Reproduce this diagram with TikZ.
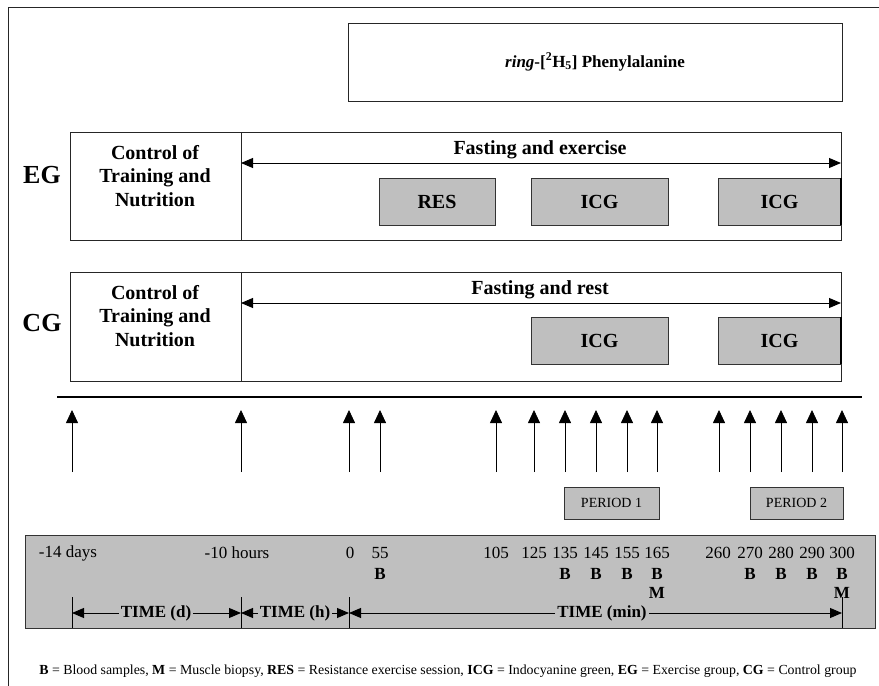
\documentclass[tikz,border=0pt]{standalone}
\usepackage{fontspec}
\setmainfont{Liberation Serif}
\usetikzlibrary{arrows.meta}
\begin{document}
\begin{tikzpicture}[x=1pt,y=-1pt,
  frame/.style={draw=black!85,line width=0.9pt},
  box/.style={draw=black!85,line width=0.9pt},
  gbox/.style={draw=black!80,line width=0.9pt,fill=black!25},
  lbl/.style={font=\bfseries\fontsize{20}{23.5}\selectfont,align=center},
  grp/.style={font=\bfseries\fontsize{26}{28}\selectfont},
  tip/.style={-{Triangle[length=13pt,width=12pt]},line width=0.8pt},
  dtip/.style={{Triangle[length=12pt,width=10pt]}-{Triangle[length=12pt,width=10pt]},line width=0.9pt},
  ttip/.style={-{Triangle[length=12pt,width=10pt]},line width=0.9pt},
  num/.style={font=\fontsize{17}{19}\selectfont,inner sep=0pt},
  bl/.style={font=\bfseries\fontsize{17}{19}\selectfont,inner sep=0pt},
  per/.style={gbox,font=\fontsize{14}{16}\selectfont,minimum height=32pt,inner sep=0pt}]
\useasboundingbox (0,0) rectangle (879,686);
% outer frame
\draw[frame] (8,686) -- (8,7) -- (879,7);
% phenylalanine
\node[box,minimum width=494pt,minimum height=78pt,inner sep=0pt,font=\bfseries\fontsize{17}{19}\selectfont] (phe) at (595,62) {\textit{ring}-[$^{\mathbf{2}}$H$_{\mathbf{5}}$] Phenylalanine};
% EG row
\draw[box] (70,132) rectangle (841,240);
\draw[box] (241,132) -- (241,240);
\node[grp] (eg) at (42,175) {EG};
\node[lbl] (egc) at (155,176) {Control of\\Training and\\Nutrition};
\coordinate (egl) at (241,163);
\coordinate (egr) at (841,163);
\draw[dtip] (egl) -- (egr);
\node[lbl] (egf) at (540,150) {Fasting and exercise};
\node[gbox,lbl,minimum width=116pt,minimum height=47pt,inner sep=0pt] (res) at (437,201.5) {RES};
\node[gbox,lbl,minimum width=137pt,minimum height=47pt,inner sep=0pt] (icg1) at (599.5,201.5) {ICG};
\node[gbox,lbl,minimum width=123pt,minimum height=47pt,inner sep=0pt] (icg2) at (779.5,201.5) {ICG};
\draw[line width=2pt] (icg2.north east) -- (icg2.south east);
% CG row
\draw[box] (70,272) rectangle (841,381);
\draw[box] (241,272) -- (241,381);
\node[grp] (cg) at (42,323) {CG};
\node[lbl] (cgc) at (155,316) {Control of\\Training and\\Nutrition};
\coordinate (cgl) at (241,303);
\coordinate (cgr) at (841,303);
\draw[dtip] (cgl) -- (cgr);
\node[lbl] (cgf) at (540,290) {Fasting and rest};
\node[gbox,lbl,minimum width=137pt,minimum height=47pt,inner sep=0pt] (icg3) at (599.5,340.5) {ICG};
\node[gbox,lbl,minimum width=123pt,minimum height=47pt,inner sep=0pt] (icg4) at (779.5,340.5) {ICG};
\draw[line width=2pt] (icg4.north east) -- (icg4.south east);
% separator
\coordinate (s1) at (57,397);
\coordinate (s2) at (862,397);
\draw[line width=1.1pt] (s1) -- (s2);
% up arrows
\foreach \x [count=\i] in {72,241,349,380,496,534,565,596,627,657,719,750,781,812,842}{
  \coordinate (ab\i) at (\x,472);
  \coordinate (at\i) at (\x,410);
  \draw[tip] (ab\i) -- (at\i);
}
% periods
\node[per,minimum width=95pt] (p1) at (611.5,503) {PERIOD 1};
\node[per,minimum width=93pt] (p2) at (796.5,503) {PERIOD 2};
% timeline box
\draw[gbox] (25,535) rectangle (875,628);
\node[num] (n1) at (68,553) {-14 days};
\node[num] (n2) at (237,553) {-10 hours};
\foreach \x/\t in {350/0,380/55,496/105,534/125,565/135,596/145,627/155,657/165,718/260,750/270,781/280,812/290,842/300}{
  \node[num] at (\x,553) {\t};
}
\foreach \x in {380,565,596,627,657,750,781,812,842}{
  \node[bl] at (\x,574) {B};
}
\node[bl] (m1) at (657,593) {M};
\node[bl] (m2) at (842,593) {M};
% ticks
\foreach \x [count=\i] in {72,241,349,842}{
  \coordinate (tk\i) at (\x,613);
  \draw[line width=0.8pt] (\x,597) -- (\x,628);
}
\node[bl,inner sep=2pt] (td) at (156,613) {TIME (d)};
\node[bl,inner sep=2pt] (th) at (295,613) {TIME (h)};
\node[bl,inner sep=2pt] (tm) at (602,613) {TIME (min)};
\draw[ttip] (td.west) -- (tk1);
\draw[ttip] (td.east) -- (tk2);
\draw[ttip] (th.west) -- (tk2);
\draw[ttip] (th.east) -- (tk3);
\draw[ttip] (tm.west) -- (tk3);
\draw[ttip] (tm.east) -- (tk4);
% legend
\node[font=\fontsize{13.85}{16}\selectfont] (leg) at (448,671) {\textbf{B} = Blood samples, \textbf{M} = Muscle biopsy, \textbf{RES} = Resistance exercise session, \textbf{ICG} = Indocyanine green, \textbf{EG} = Exercise group, \textbf{CG} = Control group};
\end{tikzpicture}
\end{document}
